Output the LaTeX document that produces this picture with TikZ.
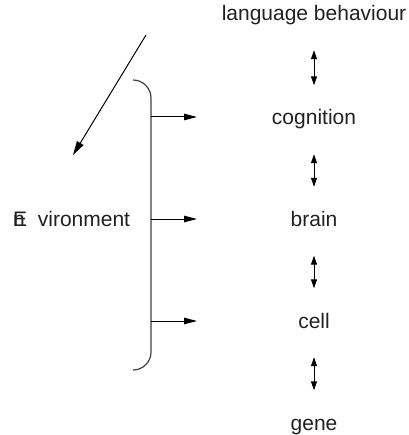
\documentclass[tikz,border=0pt]{standalone}
\usepackage{fontspec}
\setmainfont{Liberation Sans}
\usetikzlibrary{arrows.meta}

\begin{document}
\begin{tikzpicture}[x=1pt, y=-1pt,
      lvl/.style={font=\fontsize{21}{25}\selectfont, text=black!87, inner sep=0pt, text height=15pt, text depth=4.5pt, anchor=base},
      dbl/.style={{Triangle[length=9pt, width=6pt]}-{Triangle[length=9pt, width=6pt]}, line width=1pt, shorten <=24.5pt, shorten >=24.5pt},
      arr/.style={-{Triangle[length=13pt, width=6.5pt]}, line width=1pt},
      brace/.style={draw=black!75, line width=1.2pt, rounded corners=18pt},
    ]
      \useasboundingbox (0,0) rectangle (408,435);
      % levels, top to bottom
      \node[lvl] (lang) at (314,21) {language behaviour};
      \node[lvl] (cog) at (314,125) {cognition};
      \node[lvl] (brain) at (314,226.5) {brain};
      \node[lvl] (cell) at (314,328) {cell};
      \node[lvl] (gene) at (314,430) {gene};

      \draw[dbl] (lang) -- (cog);
      \draw[dbl] (cog) -- (brain);
      \draw[dbl] (brain) -- (cell);
      \draw[dbl] (cell) -- (gene);

      % environment and its bracket
      \node[lvl, anchor=base west] (env) at (13,226) {\makebox[0pt][l]{E}n\hspace{13pt}vironment};
      \draw[brace] (133,80) -- (151,80) -- (151,370) -- (133,370);
      \coordinate (b1) at (151,117);
      \coordinate (b2) at (151,219);
      \coordinate (b3) at (151,321);
      \draw[arr] (b1) -- ++(46,0);
      \draw[arr] (b2) -- ++(46,0);
      \draw[arr] (b3) -- ++(46,0);

      \coordinate (from) at (146,35);
      \coordinate (to) at (73,155);
      \draw[arr, -{Triangle[length=14pt, width=7.5pt]}] (from) -- (to);
    \end{tikzpicture}
\end{document}
